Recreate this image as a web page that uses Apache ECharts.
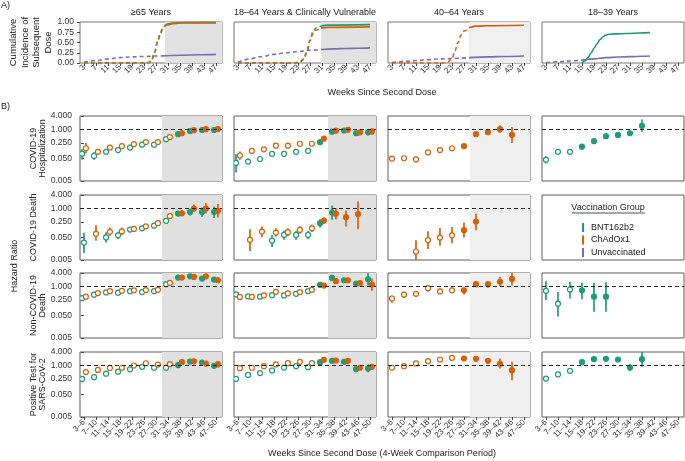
<!DOCTYPE html>
<html><head><meta charset="utf-8">
<script src="https://cdn.jsdelivr.net/npm/echarts@6/dist/echarts.min.js"></script>
<style>html,body{margin:0;padding:0;background:#fff}#c{width:685px;height:461px}</style>
</head><body><div id="c"></div>
<script>
// ---------- labels ----------
const COLUMNS = ['≥65 Years', '18–64 Years & Clinically Vulnerable', '40–64 Years', '18–39 Years'];
const OUTCOMES = ['COVID-19\nHospitalization', 'COVID-19 Death', 'Non-COVID-19\nDeath', 'Positive Test for\nSARS-CoV-2'];
const PERIODS = ['3–6','7–10','11–14','15–18','19–22','23–26','27–30','31–34','35–38','39–42','43–46','47–50'];
const WEEK_TICKS = [3,7,11,15,19,23,27,31,35,39,43,47];
const HR_TICKS = [0.005, 0.05, 0.25, 1, 4];
const CI_TICKS = [0, 0.25, 0.5, 0.75, 1];
const GROUPS = ['BNT162b2', 'ChAdOx1', 'Unvaccinated'];
const FILLED_FROM = [8, 7, 6, 3];          // first period drawn with a filled marker
const SHADE_B = [6.5, 7.5, 6.5, null];     // shaded periods start (panel B)
const SHADE_A = [30, 30.7, 28.7, null];    // shaded weeks start (panel A)
const SOLID_FROM_A = [30, 30.7, 28.7, 15]; // curves dashed before this week

// ---------- Panel A: cumulative incidence [week, value] ----------
const A_BNT = [
  [[3,0],[23,0],[24.5,0.01],[25.5,0.05],[26.5,0.26],[27.5,0.52],[28.5,0.74],[29.3,0.87],[30,0.92],[31,0.955],[32.5,0.975],[35,0.985],[41,0.99],[47,0.99]],
  [[3,0],[22,0],[23.5,0.02],[25,0.1],[26,0.3],[27,0.56],[28,0.76],[29,0.86],[30.7,0.905],[33,0.925],[47,0.935]],
  [],
  [[15,0],[16,0.05],[17,0.13],[18,0.24],[19,0.36],[20,0.47],[21,0.57],[22,0.64],[23,0.68],[24,0.70],[26,0.71],[30,0.72],[34,0.73],[37.7,0.74]]
];
const A_CHAD = [
  [[3,0],[23,0],[24.5,0.01],[25.5,0.05],[26.5,0.25],[27.5,0.5],[28.5,0.72],[29.3,0.85],[30,0.9],[31,0.935],[32.5,0.96],[35,0.975],[41,0.975],[47,0.975]],
  [[3,0],[22,0],[23.5,0.02],[25,0.1],[26,0.3],[27,0.55],[28,0.72],[29,0.8],[30.7,0.85],[33,0.87],[47,0.88]],
  [[3,0],[20,0],[21.5,0.02],[23,0.1],[24,0.3],[25,0.5],[26,0.68],[27,0.78],[28.7,0.86],[31,0.9],[35,0.91],[47,0.92]],
  []
];
const A_UNVAX = [
  [[3,0.02],[7,0.06],[11,0.10],[15,0.13],[19,0.15],[23,0.16],[27,0.17],[30,0.175],[35,0.19],[41,0.20],[47,0.21]],
  [[3,0.02],[7,0.10],[11,0.16],[15,0.21],[19,0.25],[23,0.28],[27,0.31],[30.7,0.33],[35,0.345],[39,0.355],[43,0.36],[47,0.37]],
  [[3,0.01],[7,0.04],[11,0.06],[15,0.08],[19,0.10],[23,0.11],[28.7,0.13],[35,0.15],[41,0.16],[47,0.17]],
  [[3,0.01],[7,0.03],[11,0.05],[15,0.07],[19,0.10],[23,0.13],[27,0.145],[31,0.155],[35,0.165],[37.7,0.17]]
];

// ---------- Panel B: hazard ratios [HR, lower, upper] per period, per column ----------
const N = null;
const HOSP_BNT = [
  [[0.083,0.046,0.13],[0.066,0.045,0.095],[0.10,0.08,0.125],[0.12,0.105,0.14],[0.155,0.135,0.175],[0.21,0.19,0.23],[0.21,0.19,0.235],[0.37,0.34,0.40],[0.62,0.57,0.67],[0.85,0.78,0.92],[0.95,0.82,1.1],[0.95,0.80,1.12]],
  [[0.032,0.012,0.079],[0.037,0.028,0.05],[0.048,0.04,0.058],[0.082,0.07,0.095],[0.082,0.07,0.095],[0.10,0.087,0.115],[0.11,0.095,0.127],[0.27,0.24,0.30],[0.8,0.7,0.92],[0.9,0.75,1.1],[0.68,0.55,0.85],[0.75,0.55,1.05]],
  [],
  [[0.044,0.03,0.065],[0.10,0.08,0.125],[0.10,0.08,0.125],[0.17,0.15,0.19],[0.30,0.28,0.32],[0.50,0.46,0.54],[0.57,0.53,0.62],[0.68,0.6,0.77],[1.47,0.8,2.8]]
];
const HOSP_CHAD = [
  [[0.145,0.085,0.25],[0.10,0.08,0.125],[0.155,0.135,0.18],[0.18,0.16,0.2],[0.22,0.2,0.24],[0.275,0.25,0.3],[0.275,0.25,0.3],[0.46,0.42,0.5],[0.68,0.62,0.75],[0.93,0.84,1.03],[1.03,0.9,1.18],[1.05,0.88,1.25]],
  [[0.069,0.044,0.104],[0.11,0.095,0.127],[0.13,0.115,0.148],[0.19,0.17,0.21],[0.19,0.17,0.21],[0.23,0.21,0.25],[0.23,0.21,0.25],[0.39,0.36,0.43],[0.88,0.8,0.97],[0.97,0.88,1.08],[0.74,0.62,0.88],[0.82,0.6,1.12]],
  [[0.05,0.043,0.058],[0.052,0.046,0.06],[0.046,0.04,0.053],[0.094,0.085,0.105],[0.12,0.11,0.132],[0.145,0.13,0.16],[0.18,0.16,0.2],[0.62,0.48,0.77],[0.76,0.63,1.0],[1.03,0.72,1.54],[0.58,0.25,1.3]],
  []
];
const DEATH_BNT = [
  [[0.030,0.0103,0.082],N,[0.051,0.030,0.087],[0.063,0.043,0.092],[0.114,0.087,0.15],[0.13,0.1,0.17],[0.17,0.135,0.21],[0.28,0.24,0.33],[0.59,0.5,0.72],[0.69,0.48,0.97],[0.69,0.42,1.1],[0.69,0.38,1.22]],
  [N,N,N,[0.037,0.019,0.066],[0.066,0.04,0.1],[0.066,0.04,0.1],[0.066,0.042,0.1],[0.22,0.14,0.33],[0.66,0.31,1.36]],
  [],
  []
];
const DEATH_CHAD = [
  [N,[0.074,0.036,0.176],[0.091,0.06,0.14],[0.094,0.065,0.14],[0.122,0.095,0.155],[0.16,0.125,0.2],[0.22,0.175,0.28],[0.46,0.38,0.55],[0.61,0.49,0.76],[1.0,0.72,1.5],[1.0,0.6,1.75],[0.79,0.4,1.6]],
  [N,[0.040,0.0126,0.119],[0.093,0.052,0.156],[0.084,0.055,0.13],[0.087,0.057,0.13],[0.11,0.075,0.16],[0.13,0.09,0.19],[0.29,0.21,0.4],[0.58,0.32,1.06],[0.41,0.157,0.81],[0.56,0.118,2.06]],
  [N,N,[0.012,0.005,0.038],[0.039,0.0155,0.097],[0.05,0.0216,0.135],[0.063,0.028,0.149],[0.107,0.05,0.238],[0.26,0.107,0.6]],
  []
];
const NONCOV_BNT = [
  [[0.30,0.26,0.35],[0.43,0.39,0.48],[0.54,0.49,0.6],[0.53,0.47,0.6],[0.62,0.56,0.69],[0.56,0.5,0.63],[0.62,0.56,0.69],[1.27,1.15,1.4],[2.49,2.3,2.7],[2.85,2.6,3.1],[2.25,1.9,2.7],[2.03,1.6,2.6]],
  [[0.44,0.34,0.57],[0.36,0.3,0.43],[0.35,0.29,0.42],[0.41,0.34,0.5],[0.40,0.33,0.49],[0.47,0.39,0.56],[0.62,0.52,0.74],[1.18,1.0,1.4],[2.41,1.75,3.3],[1.9,1.5,2.4],[1.31,0.95,1.8],[2.1,1.1,3.9]],
  [],
  [[0.64,0.25,1.72],[0.17,0.046,0.56],[0.74,0.29,1.6],[0.67,0.27,1.45],[0.35,0.074,1.45],[0.35,0.074,1.55]]
];
const NONCOV_CHAD = [
  [[0.35,0.31,0.4],[0.51,0.46,0.57],[0.62,0.56,0.69],[0.64,0.57,0.72],[0.67,0.6,0.75],[0.69,0.62,0.77],[0.71,0.63,0.8],[1.45,1.3,1.62],[2.49,2.25,2.75],[2.66,2.4,2.95],[2.85,2.5,3.25],[1.9,1.45,2.5]],
  [[0.34,0.29,0.4],[0.34,0.29,0.4],[0.40,0.34,0.47],[0.58,0.5,0.68],[0.49,0.42,0.57],[0.56,0.48,0.65],[0.71,0.6,0.84],[1.1,0.95,1.28],[1.72,1.35,2.2],[1.9,1.5,2.4],[1.4,1.05,1.85],[1.22,0.65,2.3]],
  [[0.29,0.19,0.40],[0.43,0.31,0.58],[0.47,0.35,0.62],[0.84,0.6,1.18],[0.60,0.46,0.79],[0.67,0.51,0.87],[0.67,0.44,0.93],[1.27,0.93,1.66],[1.27,0.9,1.72],[1.61,1.03,2.66],[2.18,1.1,4.0]],
  []
];
const POS_BNT = [
  [[0.25,0.177,0.33],[0.30,0.27,0.33],[0.43,0.4,0.46],[0.53,0.5,0.56],[0.67,0.64,0.7],[0.87,0.83,0.91],[0.79,0.75,0.83],[0.79,0.75,0.83],[1.03,0.98,1.08],[1.49,1.42,1.56],[1.35,1.25,1.45],[0.97,0.74,1.22]],
  [[0.25,0.22,0.28],[0.38,0.35,0.41],[0.46,0.43,0.49],[0.60,0.57,0.63],[0.81,0.77,0.85],[0.93,0.89,0.97],[0.84,0.8,0.88],[1.41,1.35,1.47],[1.61,1.54,1.68],[1.46,1.38,1.54],[0.69,0.55,0.85],[0.74,0.5,1.1]],
  [],
  [[0.26,0.23,0.29],[0.40,0.37,0.43],[0.58,0.54,0.62],[1.41,1.34,1.48],[1.91,1.82,2.0],[1.98,1.88,2.08],[1.85,1.74,1.96],[0.81,0.58,1.15],[1.91,0.87,4.0]]
];
const POS_CHAD = [
  [[0.51,0.39,0.67],[0.63,0.59,0.67],[0.77,0.73,0.81],[0.79,0.75,0.83],[1.0,0.95,1.05],[1.26,1.2,1.32],[1.1,1.04,1.16],[1.14,1.08,1.2],[1.4,1.32,1.48],[1.54,1.45,1.63],[1.22,1.1,1.35],[1.14,0.82,1.54]],
  [[0.76,0.71,0.81],[0.79,0.74,0.84],[0.93,0.88,0.98],[1.11,1.05,1.17],[1.27,1.21,1.33],[1.46,1.39,1.53],[1.27,1.2,1.34],[1.79,1.7,1.88],[1.67,1.58,1.76],[1.61,1.5,1.72],[0.79,0.67,0.93],[0.87,0.65,1.15]],
  [[0.79,0.74,0.84],[0.93,0.88,0.98],[1.23,1.17,1.29],[1.56,1.49,1.63],[1.85,1.77,1.93],[2.19,2.1,2.28],[2.05,1.96,2.14],[1.98,1.88,2.08],[1.61,1.5,1.72],[1.19,0.74,2.05],[0.62,0.22,1.45]],
  []
];
const ROWS_BNT = [HOSP_BNT, DEATH_BNT, NONCOV_BNT, POS_BNT];
const ROWS_CHAD = [HOSP_CHAD, DEATH_CHAD, NONCOV_CHAD, POS_CHAD];

// ---------- styling / layout ----------
const FONT = '"Liberation Sans", Arial, Helvetica, sans-serif';
const COLORS = { BNT162b2: '#1b9e77', ChAdOx1: '#d95f02', Unvaccinated: '#7570b3' };
const SHADE_COLOR = ['#e0e0e0', '#e0e0e0', '#efefef', null];
const COL_LEFT = [80, 234, 388, 542];
const COL_W = 142;
const A_TOP = 22, A_H = 41;
const ROW_TOP = [116, 195, 273, 352];
const ROW_H = 65;
const DODGE = 0.16;
const BORDER = '#5c5c5c';
const TXT = '#222';

const grid = [], xAxis = [], yAxis = [], series = [];

function lbl(extra) {
  return Object.assign({ fontFamily: FONT, fontSize: 8, color: '#333', hideOverlap: false }, extra);
}

// Panel A
for (let c = 0; c < 4; c++) {
  const gi = grid.length;
  grid.push({ left: COL_LEFT[c], top: A_TOP, width: COL_W, height: A_H, show: true, borderColor: '#777', borderWidth: 1 });
  xAxis.push({ gridIndex: gi, type: 'value', min: 1.67, max: 49,
    axisLine: { show: false }, splitLine: { show: false },
    axisTick: { show: true, customValues: WEEK_TICKS, length: 3, lineStyle: { color: '#444' } },
    axisLabel: lbl({ customValues: WEEK_TICKS, rotate: 45, margin: 3 }) });
  yAxis.push({ gridIndex: gi, type: 'value', min: 0, max: 1,
    axisLine: { show: false }, splitLine: { show: false },
    axisTick: { show: c === 0, customValues: CI_TICKS, length: 3, lineStyle: { color: '#444' } },
    axisLabel: lbl({ show: c === 0, customValues: CI_TICKS, formatter: v => v.toFixed(2), margin: 6, fontSize: 8.5 }) });
  if (SHADE_A[c] != null) {
    series.push({ type: 'line', xAxisIndex: gi, yAxisIndex: gi, data: [], z: 1, silent: true,
      markArea: { silent: true, itemStyle: { color: SHADE_COLOR[c] === '#efefef' ? '#f0f0f0' : '#e2e2e2' },
        data: [[{ xAxis: SHADE_A[c], yAxis: 0 }, { xAxis: 49, yAxis: 1 }]] } });
  }
  const curves = [['Unvaccinated', A_UNVAX[c]], ['BNT162b2', A_BNT[c]], ['ChAdOx1', A_CHAD[c]]];
  curves.forEach(([name, pts]) => {
    if (!pts || !pts.length) return;
    const t = SOLID_FROM_A[c];
    const dashed = pts.filter(p => p[0] <= t);
    const solid = pts.filter(p => p[0] >= t);
    const base = { type: 'line', name, xAxisIndex: gi, yAxisIndex: gi, showSymbol: false, symbol: 'none',
      smooth: 0.35, smoothMonotone: 'x', z: 3, silent: true, itemStyle: { color: COLORS[name] } };
    if (dashed.length > 1) series.push(Object.assign({}, base, { data: dashed, lineStyle: { color: COLORS[name], width: 1.6, type: [4, 3] } }));
    if (solid.length > 1) series.push(Object.assign({}, base, { data: solid, lineStyle: { color: COLORS[name], width: 1.6 } }));
  });
}

// Panel B
function renderErr(params, api) {
  const x = api.value(0), v = api.value(1), lo = api.value(2), hi = api.value(3), filled = api.value(4);
  const p = api.coord([x, v]);
  const pl = api.coord([x, lo]);
  const ph = api.coord([x, hi]);
  const color = api.visual('color');
  return { type: 'group', children: [
    { type: 'line', shape: { x1: p[0], y1: pl[1], x2: p[0], y2: ph[1] }, style: { stroke: color, lineWidth: 1.7 } },
    { type: 'circle', shape: { cx: p[0], cy: p[1], r: 2.5 }, style: { fill: filled ? color : '#ffffff', stroke: color, lineWidth: 1.2 } }
  ] };
}

for (let r = 0; r < 4; r++) {
  for (let c = 0; c < 4; c++) {
    const gi = grid.length;
    grid.push({ left: COL_LEFT[c], top: ROW_TOP[r], width: COL_W, height: ROW_H, show: true, borderColor: BORDER, borderWidth: 1 });
    const isLegend = (r === 1 && c === 3);
    xAxis.push({ gridIndex: gi, type: 'value', min: -0.33, max: 11.5, show: !isLegend,
      axisLine: { show: false }, splitLine: { show: false },
      axisTick: { show: r === 3, customValues: PERIODS.map((_, i) => i), length: 3, lineStyle: { color: '#444' } },
      axisLabel: lbl({ show: r === 3, customValues: PERIODS.map((_, i) => i), formatter: v => PERIODS[Math.round(v)], rotate: 45, margin: 4, fontSize: 8 }) });
    yAxis.push({ gridIndex: gi, type: 'log', logBase: 10, min: 0.005, max: 4, show: !isLegend,
      axisLine: { show: false }, splitLine: { show: false },
      axisTick: { show: c === 0, customValues: HR_TICKS, length: 3, lineStyle: { color: '#444' } },
      axisLabel: lbl({ show: c === 0, customValues: HR_TICKS, formatter: v => Number(v).toFixed(3), margin: 8, fontSize: 8.5 }) });
    if (isLegend) continue;
    const helper = { type: 'line', xAxisIndex: gi, yAxisIndex: gi, data: [], z: 1, silent: true,
      markLine: { silent: true, symbol: ['none', 'none'], label: { show: false },
        lineStyle: { color: '#222', type: [4, 3], width: 1 }, data: [{ yAxis: 1 }] } };
    if (SHADE_B[c] != null) {
      helper.markArea = { silent: true, itemStyle: { color: SHADE_COLOR[c] },
        data: [[{ xAxis: SHADE_B[c], yAxis: 0.005 }, { xAxis: 11.5, yAxis: 4 }]] };
    }
    series.push(helper);
    const bnt = ROWS_BNT[r][c] || [], chad = ROWS_CHAD[r][c] || [];
    const mk = (arr, other, sign) => {
      const out = [];
      arr.forEach((d, i) => {
        if (!d) return;
        const both = !!other[i];
        out.push([i + (both ? sign * DODGE : 0), d[0], Math.max(d[1], 0.005), Math.min(d[2], 4), i >= FILLED_FROM[c] ? 1 : 0]);
      });
      return out;
    };
    [['BNT162b2', mk(bnt, chad, -1)], ['ChAdOx1', mk(chad, bnt, 1)]].forEach(([name, data]) => {
      if (!data.length) return;
      series.push({ type: 'custom', name, xAxisIndex: gi, yAxisIndex: gi, data, z: 3, silent: true, clip: true,
        itemStyle: { color: COLORS[name] }, encode: { x: 0, y: 1 }, renderItem: renderErr });
    });
  }
}

// ---------- text ----------
const graphic = [];
function txt(x, y, text, size, opts) {
  graphic.push(Object.assign({ type: 'text', x, y, silent: true,
    style: Object.assign({ text, fontFamily: FONT, fontSize: size, fill: TXT, align: 'center', verticalAlign: 'middle' }, (opts && opts.style) || {}) },
    opts && opts.rotation ? { rotation: opts.rotation } : {}));
}
txt(1, 6, 'A)', 9, { style: { align: 'left' } });
txt(1, 107, 'B)', 9, { style: { align: 'left' } });
COLUMNS.forEach((t, c) => txt(COL_LEFT[c] + COL_W / 2, 12.5, t, 9));
txt(382, 93, 'Weeks Since Second Dose', 9);
txt(382, 454, 'Weeks Since Second Dose (4-Week Comparison Period)', 9);
txt(31, 42.5, 'Cumulative\nIncidence of\nSubsequent\nDose', 9.5, { rotation: Math.PI / 2, style: { lineHeight: 11.5 } });
txt(15, 266, 'Hazard Ratio', 9, { rotation: Math.PI / 2 });
OUTCOMES.forEach((t, r) => {
  const multi = t.indexOf('\n') >= 0;
  txt(multi ? 38 : 34, ROW_TOP[r] + ROW_H / 2, t, 9, { rotation: Math.PI / 2, style: { lineHeight: 9.5 } });
});
txt(608, 207.5, 'Vaccination Group', 9);
graphic.push({ type: 'line', silent: true, shape: { x1: 572, y1: 213, x2: 645, y2: 213 }, style: { stroke: TXT, lineWidth: 0.8 } });

const chart = echarts.init(document.getElementById('c'), null, { renderer: 'canvas' });
chart.setOption({
  animation: false,
  backgroundColor: '#fff',
  grid, xAxis, yAxis, series, graphic,
  legend: { data: GROUPS, orient: 'vertical', left: 577, top: 218, itemWidth: 2, itemHeight: 9, itemGap: 3.5,
    icon: 'rect', selectedMode: false,
    textStyle: { fontFamily: FONT, fontSize: 9, color: TXT, padding: [0, 0, 0, 2] } }
});
</script></body></html>
